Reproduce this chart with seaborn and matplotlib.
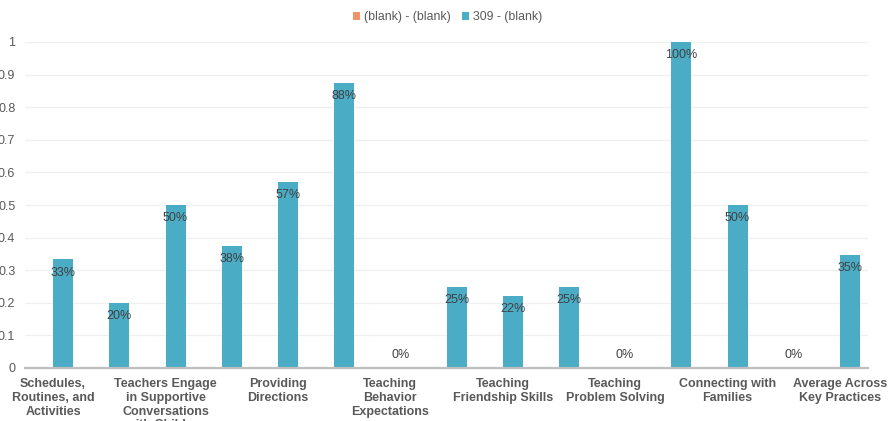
import matplotlib
matplotlib.use("Agg")
import matplotlib.pyplot as plt
from matplotlib.patches import Patch
import seaborn as sns
import pandas as pd
import numpy as np

# Practice items (15 bars); only every other item carries a visible axis label
item_index = list(range(15))
score_309 = [0.333, 0.20, 0.50, 0.375, 0.571, 0.875, 0.0, 0.25, 0.222, 0.25, 0.0, 1.0, 0.50, 0.0, 0.348]
score_blank = [np.nan] * 15

tick_positions = [0, 2, 4, 6, 8, 10, 12, 14]
tick_labels = [
    "Schedules,\nRoutines, and\nActivities",
    "Teachers Engage\nin Supportive\nConversations\nwith Children",
    "Providing\nDirections",
    "Teaching\nBehavior\nExpectations",
    "Teaching\nFriendship Skills",
    "Teaching\nProblem Solving",
    "Connecting with\nFamilies",
    "Average Across\nKey Practices",
]
y_ticks = [0, 0.1, 0.2, 0.3, 0.4, 0.5, 0.6, 0.7, 0.8, 0.9, 1.0]
y_tick_labels = ["0", "0.1", "0.2", "0.3", "0.4", "0.5", "0.6", "0.7", "0.8", "0.9", "1"]

series_names = ["(blank) - (blank)", "309 - (blank)"]
series_colors = ["#F0956A", "#4BACC6"]

df = pd.DataFrame({
    "item": item_index * 2,
    "value": score_blank + score_309,
    "series": [series_names[0]] * 15 + [series_names[1]] * 15,
})

sns.set_theme(style="white")
plt.rcParams["font.family"] = ["Liberation Sans", "DejaVu Sans"]

fig = plt.figure(figsize=(8.91, 4.21), dpi=100)
ax = fig.add_axes([25 / 891, 1 - 368 / 421, 843 / 891, 326 / 421])

sns.barplot(
    data=df, x="item", y="value", hue="series", hue_order=series_names,
    palette=series_colors, width=0.712, gap=0, saturation=1,
    edgecolor="none", errorbar=None, legend=False, ax=ax,
)

ax.set_ylim(0, 1)
ax.set_xlim(-0.5, 14.5)
ax.set_xlabel("")
ax.set_ylabel("")

# Light horizontal gridlines behind the bars
ax.set_axisbelow(True)
ax.yaxis.grid(True, color="#F0F0F0", linewidth=1.0)
ax.xaxis.grid(False)
for side in ["top", "right", "left"]:
    ax.spines[side].set_visible(False)
ax.spines["bottom"].set_color("#BFBFBF")
ax.spines["bottom"].set_linewidth(1.6)
ax.spines["bottom"].set_zorder(5)

ax.set_yticks(y_ticks)
ax.set_yticklabels(y_tick_labels)
ax.tick_params(axis="y", length=0, pad=7, labelsize=9, labelcolor="#595959")

ax.set_xticks(tick_positions)
ax.set_xticklabels(tick_labels, fontweight="bold", linespacing=1.18)
ax.tick_params(axis="x", length=0, pad=7.5, labelsize=9, labelcolor="#595959")

# Percentage labels just inside the top of each bar
teal_bars = ax.containers[1]
for patch, val in zip(teal_bars.patches, score_309):
    xc = patch.get_x() + patch.get_width() / 2
    offset = -9.6 if val > 0 else 9.6
    ax.annotate(f"{val:.0%}", xy=(xc, val), xytext=(0, offset),
                textcoords="offset points", ha="center", va="center",
                fontsize=9, color="#404040")

handles = [Patch(facecolor=c, edgecolor="none") for c in series_colors]
fig.legend(handles, series_names, loc="upper center", bbox_to_anchor=(0.502, 1.0),
           ncol=2, frameon=False, fontsize=8.8, handlelength=0.6, handleheight=0.6,
           handletextpad=0.3, columnspacing=0.9, labelcolor="#595959")

fig.savefig("out.png", dpi=100)
